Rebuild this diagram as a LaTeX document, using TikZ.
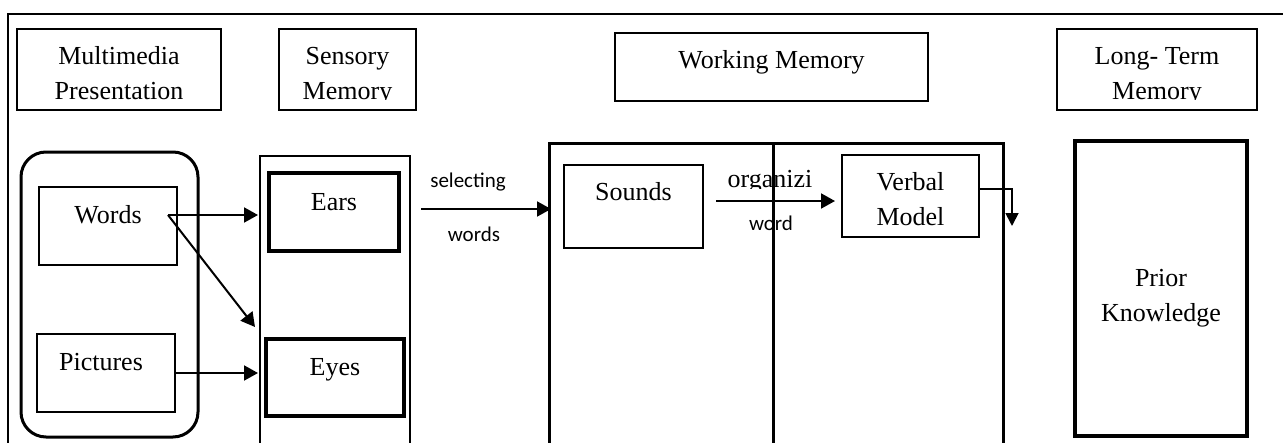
\documentclass[tikz,border=0pt]{standalone}
\usepackage{fontspec}
\setmainfont{Liberation Serif}
\newfontfamily\calfont{Carlito}
\usepackage{trimclip}
\usetikzlibrary{arrows.meta}

% text box that loses the lower part of its descenders
\newcommand{\cutdesc}[2]{\clipbox{0pt #1 0pt 0pt}{#2}}

\begin{document}
\begin{tikzpicture}[
		x=1pt, y=-1pt,
		box/.style={draw, line width=1.3pt, inner sep=0pt, outer sep=0pt, anchor=north west, align=center, font=\fontsize{26}{35}\selectfont},
		heavybox/.style={box, line width=3.3pt},
		lbl/.style={inner sep=0pt, anchor=base, font=\calfont\fontsize{21}{25}\selectfont},
		arr/.style={line width=2pt, -{Triangle[length=14pt,width=15pt]}}
	]

	\clip (0,0) rectangle (1283,442);

	% outer frame
	\draw[line width=1.3pt] (8,480) |- (1300,14);

	% headings
	\node[box, minimum width=204pt, text height=70pt, text depth=11pt] (mmhead) at (17,29) {Multimedia\\Presentation};
	\node[box, minimum width=137pt, text height=70pt, text depth=11pt] (smhead) at (279,29) {Sensory\\\cutdesc{5pt}{Memory}};
	\node[box, minimum width=313pt, text height=35pt, text depth=33pt] (wmhead) at (615,33) {Working Memory};
	\node[box, minimum width=200pt, text height=70pt, text depth=11pt] (ltmhead) at (1057,29) {Long- Term\\\cutdesc{5pt}{Memory}};

	% multimedia presentation
	\node[box, line width=3pt, rounded corners=25pt, minimum width=177pt, minimum height=285pt] (mmgroup) at (21,152) {};
	\node[box, minimum width=138pt, text height=36pt, text depth=42pt] (words) at (39,187) {Words};
	\node[box, minimum width=138pt, text height=36pt, text depth=42pt] (pics) at (37,334) {Pictures\hspace{10pt}};

	% sensory memory
	\node[box, line width=2.3pt, minimum width=150pt, minimum height=330pt] (sens) at (260,156) {};
	\node[heavybox, minimum width=130pt, text height=37pt, text depth=41pt] (ears) at (269,173) {Ears};
	\node[heavybox, minimum width=138pt, text height=36pt, text depth=41pt] (eyes) at (266,339) {Eyes};

	% working memory
	\node[box, line width=3pt, minimum width=454pt, minimum height=340pt] (wm) at (549,143) {};
	\node[box, line width=1.5pt, minimum width=139pt, text height=35pt, text depth=48pt] (sounds) at (564,165) {Sounds};
	\node[box, line width=1.5pt, minimum width=137pt, text height=70pt, text depth=12pt] (verbal) at (842,155) {Verbal\\Model};

	% long-term memory
	\node[heavybox, minimum width=172pt, text height=180pt, text depth=115pt] (prior) at (1075,141) {Prior\\Knowledge};

	\coordinate (wfork) at (168,215);
	\coordinate (eyesin) at (255,327);
	\coordinate (selA) at (421,209);
	\coordinate (orgA) at (716,201);
	\coordinate (vmdrop) at (1012,226);

	\node[lbl] (selwd1) at (468,187) {selecting};
	\node[lbl] (selwd2) at (474,241) {words};
	\node[lbl, font=\fontsize{26}{35}\selectfont] (orgwd1) at (770,187) {\cutdesc{4.2pt}{organizi}};
	\node[lbl] (orgwd2) at (771,230) {word};

	\draw[arr, shorten >=2pt] (wfork) -- (sens.west |- wfork);
	\draw[arr] (wfork) -- (eyesin);
	\draw[arr, shorten >=2pt] (pics.east) -- (sens.west |- pics.east);
	\draw[arr, shorten >=-2pt] (selA) -- (wm.west |- selA);
	\draw[arr, shorten >=7pt] (orgA) -- (verbal.west |- orgA);
	\draw[arr, line width=1.8pt, -{Triangle[length=13pt,width=13pt]}] (verbal.east |- 0,189) -| (vmdrop);

	\draw[line width=3pt] ([xshift=-3pt]wm.north) -- ([xshift=-3pt]wm.south);

\end{tikzpicture}
\end{document}
